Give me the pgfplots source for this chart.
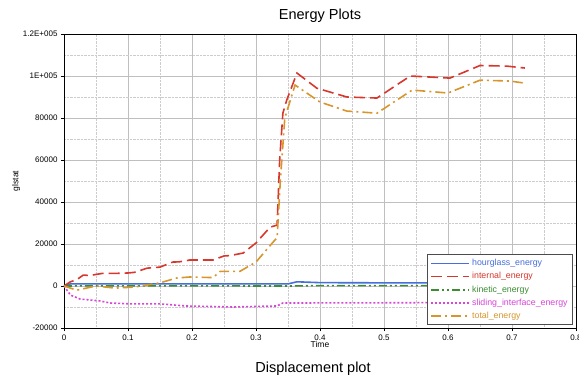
\documentclass[border=0pt]{standalone}
\usepackage{pgfplots}
\pgfplotsset{compat=1.18}
\usepackage{fontspec}
\setmainfont{Liberation Sans}
\definecolor{cblue}{RGB}{70,110,220}
\definecolor{cred}{RGB}{215,55,45}
\definecolor{cgreen}{RGB}{60,140,50}
\definecolor{cmag}{RGB}{215,70,215}
\definecolor{corange}{RGB}{215,150,45}
\begin{document}
\begin{tikzpicture}
\useasboundingbox (0,0) rectangle (579pt,381pt);
\node[font=\fontsize{14.5}{16}\selectfont] at (320pt,365pt) {Energy Plots};
\node[font=\fontsize{14.5}{16}\selectfont] at (313pt,12pt) {Displacement plot};
\begin{axis}[
  at={(64pt,53pt)}, anchor=south west,
  scale only axis, width=512pt, height=294pt,
  xmin=0, xmax=0.8, ymin=-20000, ymax=120000,
  scaled y ticks=false, scaled x ticks=false,
  /pgf/number format/assume math mode=true,
  xtick={0,0.1,...,0.8},
  xticklabels={0,0.1,0.2,0.3,0.4,0.5,0.6,0.7,0.8},
  ytick={-20000,0,20000,40000,60000,80000,100000,120000},
  yticklabels={-20000,0,20000,40000,60000,80000,1E+005,1.2E+005},
  minor xtick={0.05,0.15,...,0.75},
  minor ytick={-10000,10000,30000,50000,70000,90000,110000},
  grid=both,
  major grid style={draw=black!25, solid, line width=0.9pt},
  minor grid style={draw=black!20, densely dotted, line width=0.5pt},
  axis line style={black, line width=0.8pt},
  tick align=outside, xtick pos=bottom, ytick pos=left,
  major tick length=3pt, minor tick length=0pt,
  tick style={black, solid},
  ticklabel style={font=\fontsize{8}{9}\selectfont},
  xlabel={Time}, ylabel={glstat},
  label style={font=\fontsize{8.5}{10}\selectfont},
  xlabel style={yshift=6pt},
  ylabel style={yshift=-4pt},
  legend style={at={(0.994,0.01)}, anchor=south east, draw=black!70, line width=0.7pt,
    font=\fontsize{8.8}{10}\selectfont, cells={anchor=west}, row sep=1.2pt,
    inner xsep=3pt, inner ysep=3pt},
  legend image code/.code={\draw[#1, line width=1.8pt] (0pt,0pt) -- (38pt,0pt);},
]
\addplot[cblue, line width=1.6pt] coordinates {
(0,0) (0.01,1000) (0.35,1000) (0.364,2000) (0.4,1600) (0.5,1500) (0.72,1500)};
\addlegendentry{\textcolor{cblue}{hourglass\_energy}}
\addplot[cred, line width=1.6pt, dash pattern=on 11pt off 5pt] coordinates {
(0,0) (0.01,2000) (0.02,3000) (0.03,5200) (0.04,5000) (0.05,5500) (0.06,6000) (0.08,6000) (0.1,6200) (0.11,6500) (0.13,8500) (0.15,9000) (0.17,11400) (0.18,11500) (0.197,12400) (0.233,12400) (0.25,14300) (0.26,14500) (0.28,15700) (0.3,20500) (0.322,28000) (0.333,29000) (0.337,60000) (0.342,82300) (0.348,88500) (0.364,101400) (0.395,94200) (0.442,90000) (0.489,89500) (0.541,100000) (0.603,99000) (0.65,105000) (0.692,104700) (0.72,103800)};
\addlegendentry{\textcolor{cred}{internal\_energy}}
\addplot[cgreen, line width=1.6pt, dash pattern=on 8pt off 3pt on 2pt off 3pt on 2pt off 3pt] coordinates {
(0,0) (0.05,100) (0.35,0) (0.4,200) (0.72,200)};
\addlegendentry{\textcolor{cgreen}{kinetic\_energy}}
\addplot[cmag, line width=1.6pt, dash pattern=on 2pt off 2pt] coordinates {
(0,0) (0.01,-4300) (0.025,-6200) (0.056,-7100) (0.072,-8100) (0.103,-8500) (0.15,-8500) (0.19,-9500) (0.264,-10000) (0.333,-9500) (0.342,-8100) (0.5,-8000) (0.72,-7800)};
\addlegendentry{\textcolor{cmag}{sliding\_interface\_energy}}
\addplot[corange, line width=1.6pt, dash pattern=on 10pt off 4pt on 2pt off 4pt] coordinates {
(0,0) (0.02,-2000) (0.05,0) (0.08,-1000) (0.11,-500) (0.13,500) (0.15,1500) (0.176,3800) (0.197,4300) (0.233,4000) (0.244,7000) (0.275,7000) (0.3,11400) (0.327,21000) (0.333,23000) (0.338,50000) (0.345,80000) (0.361,95700) (0.4,87600) (0.442,83300) (0.489,82300) (0.544,93300) (0.6,91900) (0.65,98000) (0.697,97600) (0.72,96600)};
\addlegendentry{\textcolor{corange}{total\_energy}}
\end{axis}
\end{tikzpicture}
\end{document}
